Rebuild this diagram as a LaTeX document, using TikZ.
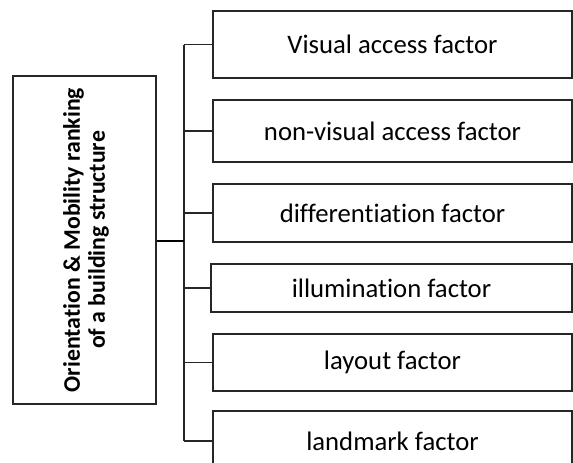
\documentclass[tikz,border=0pt]{standalone}
\usepackage{fontspec}
\setmainfont{Carlito}[Ligatures={NoCommon}]
\begin{document}
\begin{tikzpicture}[x=1pt,y=-1pt,
  factor/.style={draw=black!85, line width=1.2pt, inner sep=0pt,
    font=\fontsize{26.7}{31}\selectfont, text=black},
  link/.style={draw=black!85, line width=1.2pt},
  mainlink/.style={draw=black, line width=2.2pt}]
\useasboundingbox (0,0) rectangle (573,463);
\clip (0,0) rectangle (573,463);
\node[factor, minimum width=359pt, minimum height=67pt] (b1) at (392.5,44.5) {Visual access factor};
\node[factor, minimum width=359pt, minimum height=62pt] (b2) at (392.5,131) {non-visual access factor};
\node[factor, minimum width=359pt, minimum height=58pt] (b3) at (392.5,213) {differentiation factor};
\node[factor, minimum width=361pt, minimum height=48pt] (b4) at (391.5,288) {illumination factor};
\node[factor, minimum width=359pt, minimum height=57pt] (b5) at (392.5,362.5) {layout factor};
\node[factor, minimum width=359pt, minimum height=60pt] (b6) at (392.5,441) {landmark factor};
\node[draw=black!85, line width=1.3pt, minimum width=143pt, minimum height=328pt, inner sep=0pt] (main) at (84.5,240) {};
\node[rotate=90, align=center, inner sep=0pt, font=\bfseries\fontsize{23.8}{25}\selectfont] (maintext) at (86,240) {Orientation \& Mobility ranking\\of a building structure};
\coordinate (t1) at (184,44.5);
\coordinate (t6) at (184,441);
\coordinate (tm) at (184,240.7);
\draw[link, line width=1.4pt] (t1) -- (t6);
\draw[link] (t1) -- (b1.west);
\draw[link] (b2.west -| t1) -- (b2.west);
\draw[link] (b3.west -| t1) -- (b3.west);
\draw[link] (b4.west -| t1) -- (b4.west);
\draw[link] (b5.west -| t1) -- (b5.west);
\draw[link] (t6) -- (b6.west);
\draw[mainlink] (main.east |- tm) -- (tm);
\end{tikzpicture}
\end{document}
